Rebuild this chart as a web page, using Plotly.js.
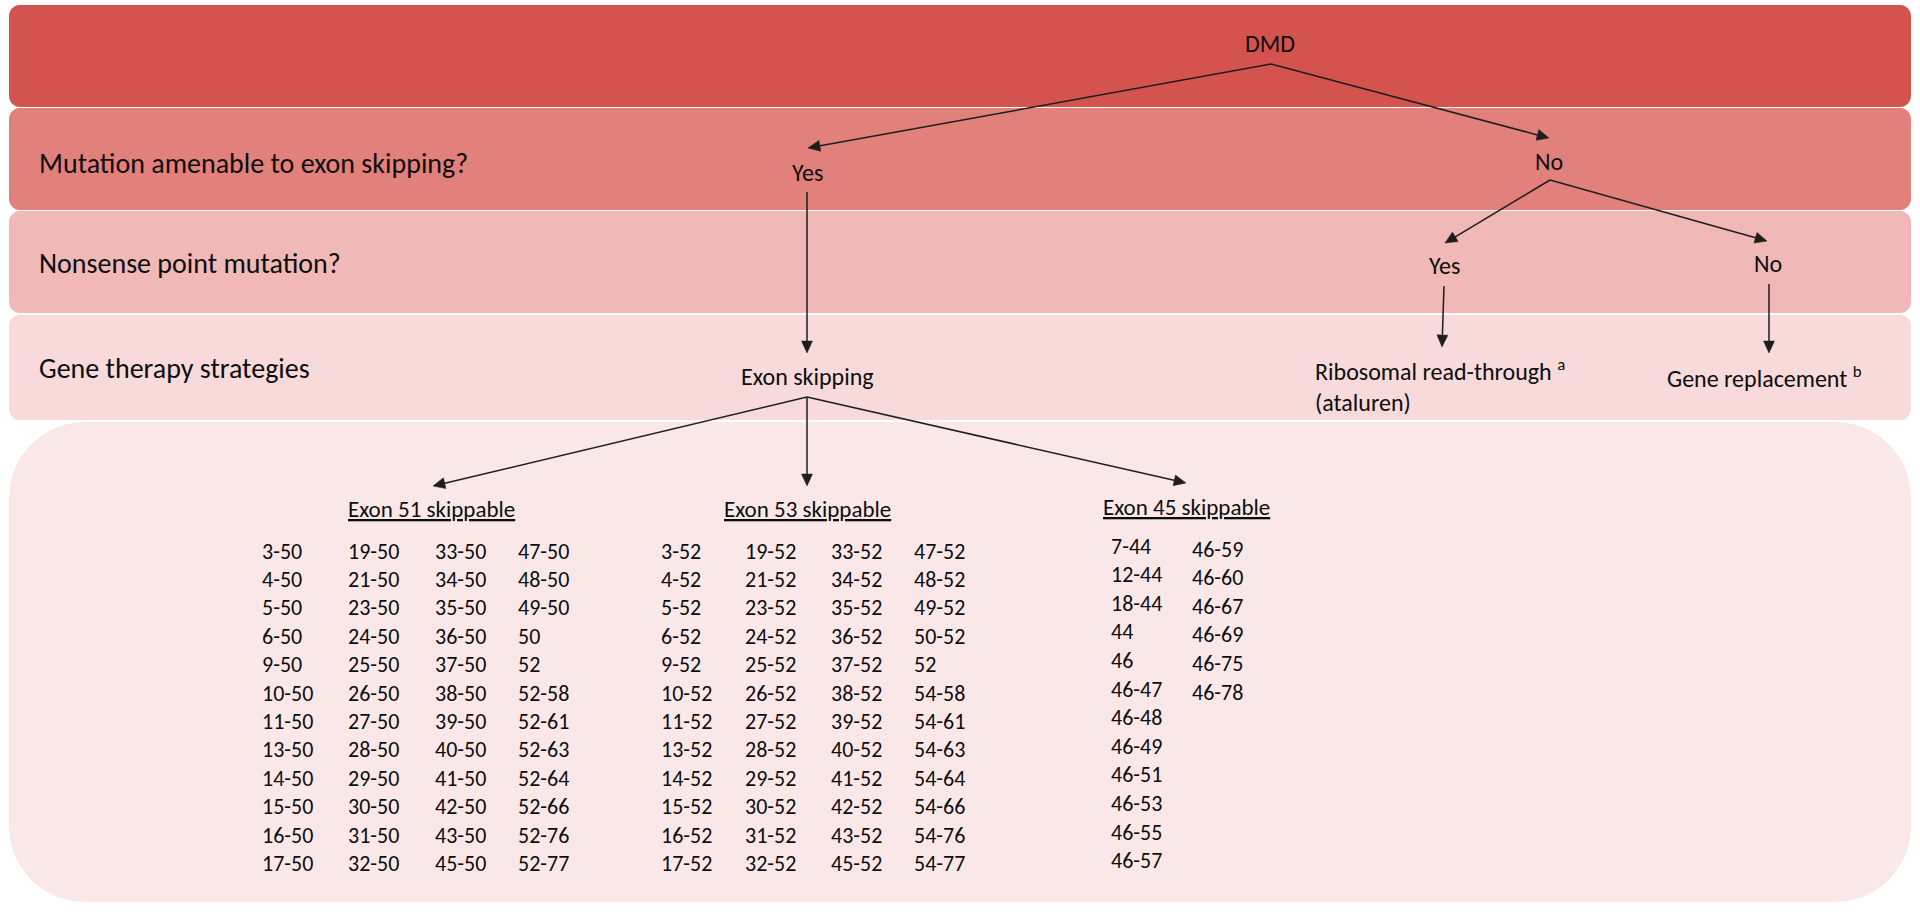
<!DOCTYPE html>
<html>
<head>
<meta charset="utf-8">
<script src="https://cdn.plot.ly/plotly-3.0.1.min.js"></script>
<style>html,body{margin:0;padding:0;background:#fff;overflow:hidden}</style>
</head>
<body>
<div id="chart" style="width:1920px;height:915px"></div>
<script>
// ---------------- DATA ----------------
const levelLabels = ['Mutation amenable to exon skipping?', 'Nonsense point mutation?', 'Gene therapy strategies'];
const rootLabel = 'DMD';
const decisionLabels = ['Yes', 'No', 'Yes', 'No'];
const strategyLabels = ['Exon skipping', 'Ribosomal read-through <sup>a</sup><br>(ataluren)', 'Gene replacement <sup>b</sup>'];
const groupTitles = ['Exon 51 skippable', 'Exon 53 skippable', 'Exon 45 skippable'];

const exon51 = ['3-50','4-50','5-50','6-50','9-50','10-50','11-50','13-50','14-50','15-50','16-50','17-50',
                '19-50','21-50','23-50','24-50','25-50','26-50','27-50','28-50','29-50','30-50','31-50','32-50',
                '33-50','34-50','35-50','36-50','37-50','38-50','39-50','40-50','41-50','42-50','43-50','45-50',
                '47-50','48-50','49-50','50','52','52-58','52-61','52-63','52-64','52-66','52-76','52-77'];
const exon53 = ['3-52','4-52','5-52','6-52','9-52','10-52','11-52','13-52','14-52','15-52','16-52','17-52',
                '19-52','21-52','23-52','24-52','25-52','26-52','27-52','28-52','29-52','30-52','31-52','32-52',
                '33-52','34-52','35-52','36-52','37-52','38-52','39-52','40-52','41-52','42-52','43-52','45-52',
                '47-52','48-52','49-52','50-52','52','54-58','54-61','54-63','54-64','54-66','54-76','54-77'];
const exon45 = ['7-44','12-44','18-44','44','46','46-47','46-48','46-49','46-51','46-53','46-55','46-57',
                '46-59','46-60','46-67','46-69','46-75','46-78'];

// ---------------- LAYOUT GEOMETRY & STYLE ----------------
const FONT = 'Carlito, Lato, "Open Sans", sans-serif';
const TXT = '#0d0d0d';
const LINE = '#1e1e1e';
const FS = 24;      // node text size
const LBL = 28;     // row label size
const HFS = 23;     // group title size
const LFS = 22;     // list text size

const bands = [
  {x0: 9, y0: 5,   x1: 1911, y1: 107, r: 11, c: '#D5534F'},
  {x0: 9, y0: 108, x1: 1911, y1: 210, r: 11, c: '#E2807B'},
  {x0: 9, y0: 211, x1: 1911, y1: 313, r: 11, c: '#F0B8B6'},
  {x0: 9, y0: 315, x1: 1911, y1: 420, r: 11, c: '#F8DADA'},
  {x0: 9, y0: 422, x1: 1911, y1: 902, r: 76, c: '#FAE8E8'}
];

function rr(x0, y0, x1, y1, r) {
  const k = 0.5523 * r;
  return `M${x0 + r},${y0} L${x1 - r},${y0} C${x1 - r + k},${y0} ${x1},${y0 + r - k} ${x1},${y0 + r} ` +
         `L${x1},${y1 - r} C${x1},${y1 - r + k} ${x1 - r + k},${y1} ${x1 - r},${y1} ` +
         `L${x0 + r},${y1} C${x0 + r - k},${y1} ${x0},${y1 - r + k} ${x0},${y1 - r} ` +
         `L${x0},${y0 + r} C${x0},${y0 + r - k} ${x0 + r - k},${y0} ${x0 + r},${y0} Z`;
}

const shapes = bands.map(b => ({
  type: 'path', path: rr(b.x0, b.y0, b.x1, b.y1, b.r),
  xref: 'x', yref: 'y', fillcolor: b.c, line: {width: 0}, layer: 'below'
}));

// edges: [tailX, tailY, tipX, tipY]
const edges = [
  [1271, 64, 808, 148],
  [1271, 64, 1549, 138],
  [807, 192, 807, 353],
  [1550, 180, 1445, 243],
  [1550, 180, 1767, 241],
  [1444, 286, 1442, 347],
  [1769, 284, 1769, 353],
  [807, 397, 433, 486],
  [807, 397, 807, 486],
  [807, 397, 1186, 483]
];
const HEAD_L = 12, HEAD_W = 5.5;
edges.forEach(e => {
  const dx = e[2] - e[0], dy = e[3] - e[1];
  const len = Math.hypot(dx, dy), ux = dx / len, uy = dy / len;
  const bx = e[2] - HEAD_L * ux, by = e[3] - HEAD_L * uy;
  const nx = -uy, ny = ux;
  shapes.push({type: 'line', xref: 'x', yref: 'y', x0: e[0], y0: e[1], x1: bx + ux, y1: by + uy,
               line: {color: LINE, width: 1.5}});
  shapes.push({type: 'path', xref: 'x', yref: 'y',
               path: `M${e[2]},${e[3]} L${bx + HEAD_W * nx},${by + HEAD_W * ny} L${bx - HEAD_W * nx},${by - HEAD_W * ny} Z`,
               fillcolor: LINE, line: {color: LINE, width: 0.5}});
});

const annotations = [];
function txt(text, x, y, xanchor, size, extra) {
  annotations.push(Object.assign({
    text: text, x: x, y: y, xref: 'x', yref: 'y', xanchor: xanchor, yanchor: 'middle',
    showarrow: false, font: {family: FONT, size: size || FS, color: TXT}, align: 'left'
  }, extra || {}));
}

// root & level labels
txt(rootLabel, 1270, 43, 'center');
const levelY = [163, 263, 368];
levelLabels.forEach((t, i) => txt(t, 37, levelY[i], 'left', LBL));

// decision labels
const decisionPos = [[807, 172], [1549, 161], [1444, 265], [1768, 263]];
decisionLabels.forEach((t, i) => txt(t, decisionPos[i][0], decisionPos[i][1], 'center'));

// strategies
txt(strategyLabels[0], 807, 376, 'center');
txt(strategyLabels[1], 1313, 385, 'left', 24);
txt(strategyLabels[2], 1665, 377, 'left', 24);

// group titles (underlined)
const titlePos = [[431, 509], [807, 509], [1186, 507]];
groupTitles.forEach((t, i) => txt('<u>' + t + '</u>', titlePos[i][0], titlePos[i][1], 'center', HFS));

// exon lists laid out in columns of 12
const groups = [
  {items: exon51, cols: [262, 348, 435, 518], y0: [553, 553, 553, 553], step: 28.4},
  {items: exon53, cols: [661, 745, 831, 914], y0: [553, 553, 553, 553], step: 28.4},
  {items: exon45, cols: [1111, 1192], y0: [548, 551], step: 28.6}
];
const traces = groups.map(g => {
  const xs = [], ys = [];
  g.items.forEach((s, i) => {
    const c = Math.floor(i / 12), r = i % 12;
    xs.push(g.cols[c]);
    ys.push(g.y0[c] + r * g.step);
  });
  return {
    type: 'scatter', mode: 'text', x: xs, y: ys, text: g.items,
    textposition: 'middle right', hoverinfo: 'skip',
    textfont: {family: FONT, size: LFS, color: TXT}
  };
});

const layout = {
  width: 1920, height: 915,
  margin: {l: 0, r: 0, t: 0, b: 0, pad: 0},
  paper_bgcolor: '#ffffff', plot_bgcolor: 'rgba(0,0,0,0)',
  xaxis: {range: [0, 1920], visible: false, fixedrange: true},
  yaxis: {range: [915, 0], visible: false, fixedrange: true},
  showlegend: false,
  shapes: shapes,
  annotations: annotations
};

Plotly.newPlot('chart', traces, layout, {staticPlot: true, displayModeBar: false});
</script>
</body>
</html>
